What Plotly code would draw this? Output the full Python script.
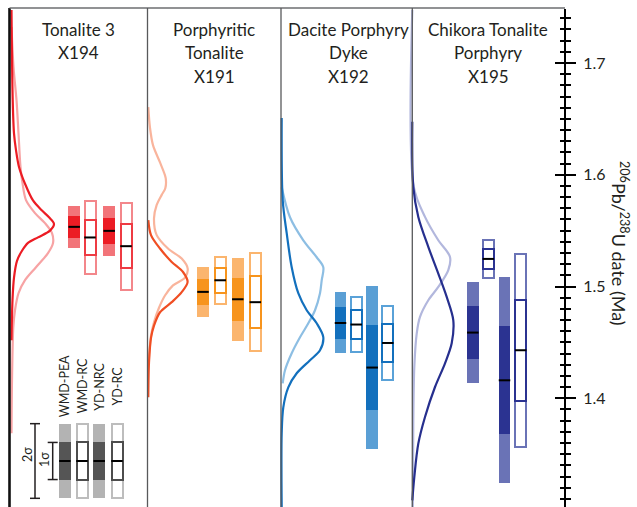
import numpy as np
import plotly.graph_objects as go

# ---------------- data ----------------
methods = ["WMD-PEA", "WMD-RC", "YD-NRC", "YD-RC"]
method_filled = [True, False, True, False]

title_lines = [
    ["Tonalite 3", "X194"],
    ["Porphyritic", "Tonalite", "X191"],
    ["Dacite Porphyry", "Dyke", "X192"],
    ["Chikora Tonalite", "Porphyry", "X195"],
]

# dates (Ma) and 1-sigma / 2-sigma uncertainties, one value per method
x194_date = [1.5534, 1.5439, 1.5498, 1.5361]
x194_s1 = [0.0096, 0.0160, 0.0116, 0.0199]
x194_s2 = [0.0185, 0.0324, 0.0221, 0.0388]

x191_date = [1.4952, 1.5056, 1.4886, 1.4860]
x191_s1 = [0.0116, 0.0110, 0.0194, 0.0231]
x191_s2 = [0.0224, 0.0209, 0.0373, 0.0441]

x192_date = [1.4674, 1.4660, 1.4275, 1.4495]
x192_s1 = [0.0143, 0.0128, 0.0380, 0.0172]
x192_s2 = [0.0273, 0.0250, 0.0731, 0.0328]

x195_date = [1.4588, 1.5247, 1.4161, 1.4430]
x195_s1 = [0.0237, 0.0087, 0.0482, 0.0452]
x195_s2 = [0.0449, 0.0172, 0.0922, 0.0862]

# legend sample box
key_date = 1.3439
key_s1 = 0.0166
key_s2 = 0.0334

# probability density curves (age in Ma, relative density)
x194_pdf1_age = [1.7474, 1.667, 1.637, 1.622, 1.607, 1.592, 1.577, 1.568, 1.562, 1.556,
                 1.550, 1.544, 1.539, 1.532, 1.523, 1.508, 1.488, 1.452]
x194_pdf1_den = [0.5, 1.7, 3, 5, 8, 14, 22, 31, 38, 43, 39, 27, 17, 11, 6, 3, 1.5, 0.5]
x194_pdf2_age = [1.7322, 1.6964, 1.6668, 1.6372, 1.6068, 1.5925, 1.5773, 1.5657, 1.5567,
                 1.5478, 1.5388, 1.5299, 1.5173, 1.5057, 1.4940, 1.4788, 1.4636, 1.4162, 1.3688]
x194_pdf2_den = [0.5, 2.5, 5.5, 7.5, 9.5, 11.5, 15, 24, 34, 41, 42, 37, 25, 14, 7.5, 4, 2.3, 1, 0.5]

x191_pdf1_age = [1.5594, 1.546, 1.534, 1.522, 1.513, 1.504, 1.495, 1.486, 1.477, 1.465,
                 1.454, 1.432, 1.401]
x191_pdf1_den = [0, 2.7, 11.7, 23.4, 34.7, 39.3, 33.4, 23.4, 11.7, 5.7, 2.7, 0.7, 0]
x191_pdf2_age = [1.6605, 1.642, 1.6265, 1.611, 1.597, 1.588, 1.582, 1.573, 1.561, 1.546,
                 1.534, 1.525, 1.516, 1.508, 1.501, 1.492, 1.481, 1.468, 1.456, 1.434]
x191_pdf2_den = [0, 1.7, 4.7, 11.7, 17.4, 17, 13.4, 8.4, 5.7, 8.4, 19.7, 33.4, 39.4, 36.7,
                 24.7, 16.7, 10.7, 5.7, 2.7, 0.5]

x192_pdf1_age = [1.6507, 1.5773, 1.5477, 1.5173, 1.494, 1.4788, 1.4671, 1.4546, 1.443,
                 1.434, 1.4224, 1.4098, 1.3919, 1.3687, 1.3024]
x192_pdf1_den = [0, 1, 5, 10, 16.6, 25, 35, 41.6, 38.3, 28.3, 15, 6.6, 1.6, 0, 0]
x192_pdf2_age = [1.5889, 1.562, 1.5414, 1.5262, 1.5173, 1.5056, 1.494, 1.4788, 1.4671,
                 1.4546, 1.4403, 1.4251, 1.4134]
x192_pdf2_den = [0, 8.3, 21.6, 35, 41.6, 40, 38.3, 33.3, 26.6, 18.3, 10, 3.3, 1]

x195_pdf1_age = [1.6474, 1.5892, 1.5623, 1.5355, 1.5116, 1.4907, 1.4698, 1.4492, 1.4313,
                 1.4101, 1.3833, 1.3594, 1.3295, 1.3087]
x195_pdf1_den = [0, 1, 6, 16, 26, 34.4, 41, 39.4, 32.7, 22.7, 12.7, 6, 2, 0]
x195_pdf2_age = [1.7474, 1.5892, 1.5623, 1.5414, 1.5265, 1.5146, 1.4996, 1.4877, 1.4728,
                 1.4579, 1.428, 1.380, 1.302]
x195_pdf2_den = [0, 1.5, 12.7, 26, 37.7, 36, 26, 16, 7.7, 4.4, 2, 1, 0.5]

# ---------------- styling / layout ----------------
W, H = 637, 507
X_MAX = 565.0                     # right axis position (px)
PX_PER_MA = 1117.65
Y_TOP = 1.7 + 63 / PX_PER_MA      # age at the top edge of the page
Y_BOT = Y_TOP - H / PX_PER_MA     # age at the bottom edge of the page
FRAME_TOP = 8

INK = "#231f20"
FONT = "Lato"

panels = [
    dict(date=x194_date, s1=x194_s1, s2=x194_s2,
         pdf=[(x194_pdf2_age, x194_pdf2_den, "#f7a3a4"), (x194_pdf1_age, x194_pdf1_den, "#ec1c24")],
         light="#f27479", dark="#ec1c24", olight="#f3878b", odark="#ee3b43",
         base=11.0, cols=[74.2, 90.0, 109.2, 126.0]),
    dict(date=x191_date, s1=x191_s1, s2=x191_s2,
         pdf=[(x191_pdf2_age, x191_pdf2_den, "#f9b49c"), (x191_pdf1_age, x191_pdf1_den, "#f04e23")],
         light="#fbb56e", dark="#f7941d", olight="#fbb56e", odark="#f7941d",
         base=148.3, cols=[203.0, 220.2, 237.8, 255.3]),
    dict(date=x192_date, s1=x192_s1, s2=x192_s2,
         pdf=[(x192_pdf2_age, x192_pdf2_den, "#8dbee3"), (x192_pdf1_age, x192_pdf1_den, "#1370bd")],
         light="#5a9fd5", dark="#1370bd", olight="#5aa2d8", odark="#1370bd",
         base=281.7, cols=[340.5, 356.2, 372.2, 387.8]),
    dict(date=x195_date, s1=x195_s1, s2=x195_s2,
         pdf=[(x195_pdf2_age, x195_pdf2_den, "#b2b7dd"), (x195_pdf1_age, x195_pdf1_den, "#262f8e")],
         light="#6a73b6", dark="#2b3391", olight="#6a73b6", odark="#2b3391",
         base=412.3, cols=[472.8, 488.3, 504.5, 520.7]),
]
title_x = [78, 214, 348, 488]
title_y = [30, 53, 76]
dividers = [147.5, 281.0, 412.3]

key_cols = [64.8, 82.0, 99.2, 117.0]
key_style = dict(light="#b3b3b3", dark="#555555", olight="#bdbdbd", odark="#4d4d4d")

FILL_W = 11.5
OPEN_W = 11.0
LW = 2.0
MEAN_LEN = 11.5                   # drawn length of the central date mark (px)


def px(x):
    return x / X_MAX


def py(y):
    return 1 - y / H


fig = go.Figure()


def add_boxes(cols, dates, s1s, s2s, style):
    for c, d, a, b, filled in zip(cols, dates, s1s, s2s, method_filled):
        if filled:
            fig.add_trace(go.Bar(x=[c], y=[2 * b], base=[d - b], width=FILL_W,
                                 marker=dict(color=style["light"], line=dict(width=0)),
                                 showlegend=False, hoverinfo="skip"))
            fig.add_trace(go.Bar(x=[c], y=[2 * a], base=[d - a], width=FILL_W,
                                 marker=dict(color=style["dark"], line=dict(width=0)),
                                 showlegend=False, hoverinfo="skip"))
        else:
            fig.add_trace(go.Bar(x=[c], y=[2 * b], base=[d - b], width=OPEN_W,
                                 marker=dict(color="rgba(255,255,255,0)",
                                             line=dict(width=LW, color=style["olight"])),
                                 showlegend=False, hoverinfo="skip"))
            fig.add_trace(go.Bar(x=[c], y=[2 * a], base=[d - a], width=OPEN_W,
                                 marker=dict(color="rgba(255,255,255,0)",
                                             line=dict(width=LW, color=style["odark"])),
                                 showlegend=False, hoverinfo="skip"))
    # central date marks (line-ew spans 1.4 x marker size)
    fig.add_trace(go.Scatter(x=cols, y=dates, mode="markers", yaxis="y2",
                             marker=dict(symbol="line-ew", size=MEAN_LEN / 1.4,
                                         line=dict(width=2, color="#000000")),
                             showlegend=False, hoverinfo="skip"))


for p in panels:
    for age, den, col in p["pdf"]:
        fig.add_trace(go.Scatter(x=[p["base"] + v for v in den], y=age, mode="lines",
                                 line=dict(color=col, width=2.2, shape="spline", smoothing=0.9),
                                 showlegend=False, hoverinfo="skip"))
    add_boxes(p["cols"], p["date"], p["s1"], p["s2"], p)

# legend sample boxes
add_boxes(key_cols, [key_date] * 4, [key_s1] * 4, [key_s2] * 4, key_style)

# sigma brackets in the key
for xc, s in [(35.0, key_s2), (52.7, key_s1)]:
    fig.add_trace(go.Scatter(
        x=[xc - 5, xc + 5, None, xc, xc, None, xc - 5, xc + 5],
        y=[key_date + s, key_date + s, None, key_date + s, key_date - s, None,
           key_date - s, key_date - s],
        mode="lines", line=dict(color=INK, width=1.5), connectgaps=False,
        showlegend=False, hoverinfo="skip"))

shapes = []
# left frame
shapes.append(dict(type="line", xref="paper", yref="paper", x0=px(9.5), x1=px(9.5),
                   y0=py(FRAME_TOP), y1=0, line=dict(color="#111111", width=2.6)))
# top edge
shapes.append(dict(type="line", xref="paper", yref="paper", x0=px(9.5), x1=px(X_MAX),
                   y0=py(FRAME_TOP), y1=py(FRAME_TOP), line=dict(color="#6d6e71", width=1.3)))
for d in dividers:
    shapes.append(dict(type="line", xref="paper", yref="paper", x0=px(d), x1=px(d),
                       y0=py(FRAME_TOP), y1=0, line=dict(color="#58595b", width=1.3)))
# right axis line
shapes.append(dict(type="line", xref="paper", yref="paper", x0=1, x1=1,
                   y0=py(FRAME_TOP + 1), y1=0, line=dict(color="#000000", width=2)))

annotations = []
for lines, xc in zip(title_lines, title_x):
    for t, yy in zip(lines, title_y):
        annotations.append(dict(text=t, x=px(xc), y=py(yy), xref="paper", yref="paper",
                                showarrow=False, xanchor="center", yanchor="middle",
                                font=dict(family=FONT, size=17, color=INK)))
for m, xc in zip(methods, key_cols):
    annotations.append(dict(text=m, x=px(xc), y=py(386.5), xref="paper", yref="paper",
                            showarrow=False, textangle=-90, xanchor="center", yanchor="middle",
                            font=dict(family=FONT, size=12.5, color=INK)))
annotations.append(dict(text="2σ", x=px(27), y=py(455), xref="paper", yref="paper",
                        showarrow=False, textangle=-90, xanchor="center", yanchor="middle",
                        font=dict(family=FONT, size=12.5, color=INK)))
annotations.append(dict(text="1σ", x=px(44), y=py(460), xref="paper", yref="paper",
                        showarrow=False, textangle=-90, xanchor="center", yanchor="middle",
                        font=dict(family=FONT, size=12.5, color=INK)))
annotations.append(dict(text="<sup>206</sup>Pb/<sup>238</sup>U date (Ma)", x=px(620), y=py(243),
                        xref="paper", yref="paper", showarrow=False, textangle=90,
                        xanchor="center", yanchor="middle",
                        font=dict(family=FONT, size=18, color=INK)))

major = [1.4, 1.5, 1.6, 1.7]
minor = [round(v, 2) for v in np.arange(1.31, 1.75, 0.01) if round(v, 2) not in major]

axis_common = dict(range=[Y_BOT, Y_TOP], side="right", showgrid=False, zeroline=False,
                   showline=False, tickmode="array", tickvals=major, ticklen=10, tickwidth=2,
                   tickcolor="#000000",
                   minor=dict(tickmode="array", tickvals=minor, ticklen=5, tickwidth=1.5,
                              tickcolor="#000000", showgrid=False))

yaxis = dict(axis_common, anchor="x", ticks="outside", ticktext=[str(v) for v in major],
             tickfont=dict(family=FONT, size=16, color=INK), ticklabelstandoff=4)
yaxis["minor"] = dict(axis_common["minor"], ticks="outside")
yaxis2 = dict(axis_common, anchor="x", overlaying="y", ticks="inside", showticklabels=False)
yaxis2["minor"] = dict(axis_common["minor"], ticks="inside")

fig.update_layout(
    width=W, height=H,
    margin=dict(l=0, r=W - X_MAX, t=0, b=0),
    paper_bgcolor="white", plot_bgcolor="white",
    barmode="overlay", bargap=0,
    xaxis=dict(range=[0, X_MAX], visible=False, fixedrange=True),
    yaxis=yaxis, yaxis2=yaxis2,
    shapes=shapes, annotations=annotations,
    showlegend=False,
)

fig.write_html("out.html")
